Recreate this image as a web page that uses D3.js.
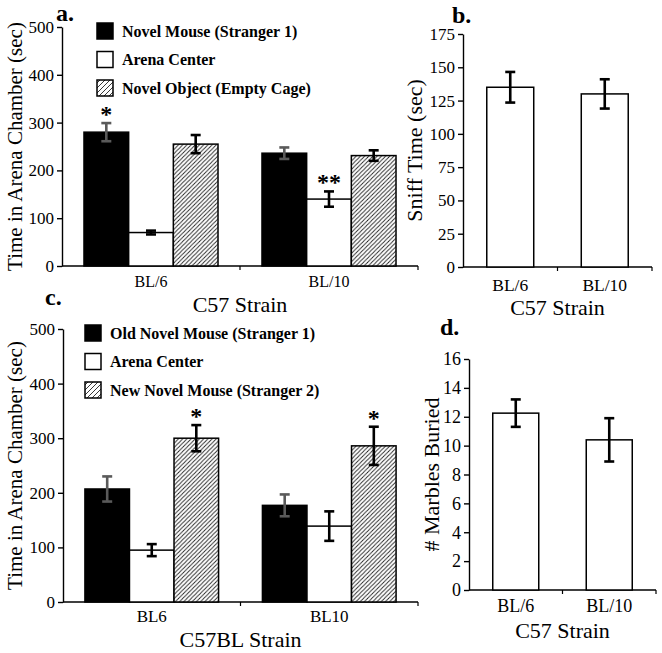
<!DOCTYPE html>
<html><head><meta charset="utf-8">
<script src="https://cdn.jsdelivr.net/npm/d3@7"></script>
<style>
body{margin:0;background:#fff;}
svg text{fill:#000;}
</style></head>
<body><svg id="chart" width="662" height="653"></svg>
<script>
// ---------- data ----------
const aGroups = ["BL/6", "BL/10"];
const aSeries = ["Novel Mouse (Stranger 1)", "Arena Center", "Novel Object (Empty Cage)"];
const aMeans  = [[280, 70, 255], [236, 140, 231]];
const aErrors = [[19, 4, 19], [12, 16, 11]];
const aStars  = [["*", "", ""], ["", "**", ""]];
const aTicks  = [0, 100, 200, 300, 400, 500];

const bGroups = ["BL/6", "BL/10"];
const bMeans  = [135, 130];
const bErrors = [11.5, 11];
const bTicks  = [0, 25, 50, 75, 100, 125, 150, 175];

const cGroups = ["BL6", "BL10"];
const cSeries = ["Old Novel Mouse (Stranger 1)", "Arena Center", "New Novel Mouse (Stranger 2)"];
const cMeans  = [[207, 95, 300], [177, 139, 286]];
const cErrors = [[23, 11, 24], [20, 27, 35]];
const cStars  = [["", "", "*"], ["", "", "*"]];
const cTicks  = [0, 100, 200, 300, 400, 500];

const dGroups = ["BL/6", "BL/10"];
const dMeans  = [12.25, 10.4];
const dErrors = [0.95, 1.5];
const dTicks  = [0, 2, 4, 6, 8, 10, 12, 14, 16];

// ---------- drawing ----------
const FONT = '"Liberation Serif", Tinos, "Times New Roman", Times, "Nimbus Roman", "DejaVu Serif", serif';
const svg = d3.select("#chart").style("font-family", FONT);
const defs = svg.append("defs");
function hatch(id, s) {
  const p = defs.append("pattern").attr("id", id).attr("patternUnits", "userSpaceOnUse")
    .attr("width", s).attr("height", s);
  p.append("rect").attr("width", s).attr("height", s).attr("fill", "#fff");
  p.append("path").attr("d", `M0,${s} L${s},0 M${-s/2},${s/2} L${s/2},${-s/2} M${s/2},${s*1.5} L${s*1.5},${s/2}`)
    .attr("stroke", "#222").attr("stroke-width", 0.9);
}
hatch("hatchBar", 4.2);
hatch("hatchLeg", 5);
const fills = ["#000", "#fff", "url(#hatchBar)"];
const legFills = ["#000", "#fff", "url(#hatchLeg)"];
const errColors = ["#5a5a5a", "#000", "#000"];

function txt(sel) { return sel.style("font-family", FONT).attr("fill", "#000"); }

function panel(cfg) {
  const g = svg.append("g");
  const y = d3.scaleLinear().domain([0, cfg.ticks[cfg.ticks.length - 1]]).range([cfg.y0, cfg.y1]);
  const n = cfg.groups.length;
  const x = d3.scaleBand().domain(cfg.groups).range([cfg.x0, cfg.x1])
    .paddingInner(cfg.pad).paddingOuter(cfg.pad / 2);
  // y axis
  const ya = g.append("g").attr("transform", `translate(${cfg.x0},0)`)
    .call(d3.axisLeft(y).tickValues(cfg.ticks).tickSize(5).tickSizeOuter(0).tickPadding(3));
  ya.attr("font-family", null);
  ya.selectAll("path,line").attr("stroke", "#000").attr("stroke-width", 1.4);
  txt(ya.selectAll("text")).style("font-size", cfg.tickFont + "px");
  // x axis
  g.append("line").attr("x1", cfg.x0).attr("x2", cfg.x1).attr("y1", cfg.y0).attr("y2", cfg.y0)
    .attr("stroke", "#000").attr("stroke-width", 1.4);
  for (let i = 1; i <= n; i++) {
    const xx = cfg.x0 + i * (cfg.x1 - cfg.x0) / n;
    g.append("line").attr("x1", xx).attr("x2", xx).attr("y1", cfg.y0).attr("y2", cfg.y0 + 4)
      .attr("stroke", "#000").attr("stroke-width", 1.2);
  }
  txt(g.selectAll(".cat").data(cfg.groups).join("text")
    .attr("x", d => x(d) + x.bandwidth() / 2).attr("y", cfg.y0 + cfg.catDy)
    .attr("text-anchor", "middle").style("font-size", cfg.catFont + "px").text(d => d));
  txt(g.append("text").attr("x", (cfg.x0 + cfg.x1) / 2).attr("y", cfg.y0 + cfg.titleDy)
    .attr("text-anchor", "middle").style("font-size", "22px").text(cfg.xTitle));
  txt(g.append("text").attr("transform", `translate(${cfg.yTitleX},${(cfg.y0 + cfg.y1) / 2}) rotate(-90)`)
    .attr("text-anchor", "middle").style("font-size", cfg.yTitleFont + "px").text(cfg.yTitle));
  txt(g.append("text").attr("x", cfg.labelX).attr("y", cfg.labelY)
    .style("font-size", "24px").style("font-weight", "bold").text(cfg.label));

  // bars
  const multi = Array.isArray(cfg.means[0]);
  const rows = [];
  cfg.groups.forEach((grp, gi) => {
    if (multi) {
      cfg.series.forEach((s, si) => rows.push({grp, si, v: cfg.means[gi][si], e: cfg.errors[gi][si],
        star: cfg.stars ? cfg.stars[gi][si] : ""}));
    } else rows.push({grp, si: 1, v: cfg.means[gi], e: cfg.errors[gi], star: ""});
  });
  const sub = d3.scaleBand().domain(multi ? cfg.series.map((s, i) => i) : [1]).range([0, x.bandwidth()]);
  const bx = d => x(d.grp) + (multi ? sub(d.si) : 0);
  const bw = multi ? sub.bandwidth() : x.bandwidth();
  g.selectAll(".bar").data(rows).join("rect")
    .attr("x", bx).attr("width", bw).attr("y", d => y(d.v)).attr("height", d => y(0) - y(d.v))
    .attr("fill", d => multi ? fills[d.si] : "#fff").attr("stroke", "#000").attr("stroke-width", 1.5);
  // error bars
  rows.forEach(d => {
    const cx = bx(d) + bw / 2, c = multi ? errColors[d.si] : "#000";
    const top = y(d.v + d.e), bot = y(d.v - d.e);
    const eg = g.append("g").attr("stroke", c).attr("stroke-width", 2.6);
    eg.append("line").attr("x1", cx).attr("x2", cx).attr("y1", top).attr("y2", bot);
    eg.append("line").attr("x1", cx - 5).attr("x2", cx + 5).attr("y1", top).attr("y2", top);
    eg.append("line").attr("x1", cx - 5).attr("x2", cx + 5).attr("y1", bot).attr("y2", bot);
    if (d.star) txt(g.append("text").attr("x", cx).attr("y", top - 1).attr("text-anchor", "middle")
      .style("font-size", "24px").style("font-weight", "bold").text(d.star));
  });
  // legend
  if (cfg.series) {
    cfg.series.forEach((s, i) => {
      const ly = cfg.legY + i * cfg.legDy;
      g.append("rect").attr("x", cfg.legX).attr("y", ly - 8).attr("width", 16).attr("height", 16)
        .attr("fill", legFills[i]).attr("stroke", "#000").attr("stroke-width", 1.5);
      txt(g.append("text").attr("x", cfg.legX + 25).attr("y", ly + 5.5)
        .style("font-size", "16px").style("font-weight", "bold").text(s));
    });
  }
}

panel({groups: aGroups, series: aSeries, means: aMeans, errors: aErrors, stars: aStars, ticks: aTicks,
  x0: 62, x1: 418, y0: 266, y1: 27, pad: 0.247, tickFont: 17, catFont: 16, catDy: 21, titleDy: 46,
  xTitle: "C57 Strain", yTitle: "Time in Arena Chamber (sec)", yTitleX: 22, yTitleFont: 21,
  label: "a.", labelX: 56, labelY: 21, legX: 97, legY: 31, legDy: 28.5});
panel({groups: bGroups, means: bMeans, errors: bErrors, ticks: bTicks,
  x0: 463, x1: 652, y0: 267, y1: 34, pad: 0.503, tickFont: 17, catFont: 17.5, catDy: 24, titleDy: 48,
  xTitle: "C57 Strain", yTitle: "Sniff Time (sec)", yTitleX: 422, yTitleFont: 22,
  label: "b.", labelX: 452, labelY: 23});
panel({groups: cGroups, series: cSeries, means: cMeans, errors: cErrors, stars: cStars, ticks: cTicks,
  x0: 63, x1: 418, y0: 602, y1: 329, pad: 0.247, tickFont: 17, catFont: 17, catDy: 20, titleDy: 45,
  xTitle: "C57BL Strain", yTitle: "Time in Arena Chamber (sec)", yTitleX: 22, yTitleFont: 21,
  label: "c.", labelX: 45, labelY: 305, legX: 85, legY: 333, legDy: 28.5});
panel({groups: dGroups, means: dMeans, errors: dErrors, ticks: dTicks,
  x0: 469, x1: 656, y0: 590, y1: 359, pad: 0.508, tickFont: 18, catFont: 18, catDy: 22, titleDy: 48,
  xTitle: "C57 Strain", yTitle: "# Marbles Buried", yTitleX: 439, yTitleFont: 22,
  label: "d.", labelX: 440, labelY: 335});
</script></body></html>
